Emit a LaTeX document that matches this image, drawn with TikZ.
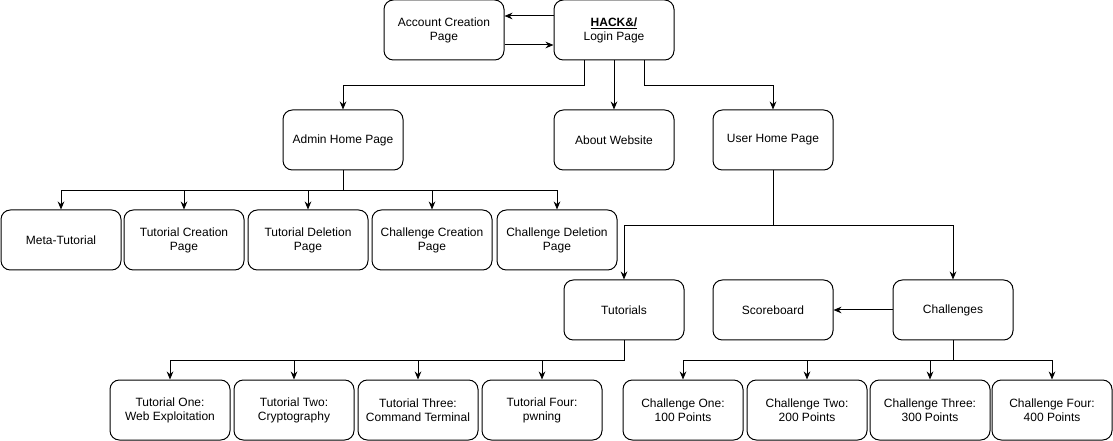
\documentclass[tikz,border=0pt]{standalone}
\usepackage{fontspec}
\setmainfont{Liberation Sans}
\usetikzlibrary{arrows.meta,calc}

\tikzset{
  page/.style={draw, rounded corners=7pt, line width=0.75pt, minimum width=90pt,
    minimum height=45pt, inner sep=1pt, align=center, font=\fontsize{9}{10.5}\selectfont},
  arr/.style={-{Stealth[length=6pt,width=5pt]}, line width=0.75pt},
  lnk/.style={line width=0.75pt}
}

\begin{document}
\begin{tikzpicture}[x=0.75pt,y=-0.75pt]
  \useasboundingbox (0,0) rectangle (1113,441);
  % top row
  \node[page] (acc) at (444,30) {Account Creation\\Page};
  \node[page] (login) at (614,30) {\underline{\textbf{HACK\&/}}\\Login Page};
  % home pages
  \node[page] (admin) at (343,140) {Admin Home Page};
  \node[page] (about) at (614,140) {About Website};
  \node[page] (user) at (773,140) {User Home Page};
  % admin pages
  \node[page] (meta) at (61,240) {Meta-Tutorial};
  \node[page] (tcre) at (184,240) {Tutorial Creation\\Page};
  \node[page] (tdel) at (308,240) {Tutorial Deletion\\Page};
  \node[page] (ccre) at (432,240) {Challenge Creation\\Page};
  \node[page] (cdel) at (557,240) {Challenge Deletion\\Page};
  % user pages
  \node[page] (tuts) at (624,310) {Tutorials};
  \node[page] (score) at (773,310) {Scoreboard};
  \node[page] (chal) at (953,310) {Challenges};
  % tutorials and challenges
  \node[page] (tone) at (170,410) {Tutorial One:\\Web Exploitation};
  \node[page] (ttwo) at (294,410) {Tutorial Two:\\Cryptography};
  \node[page] (tthree) at (418,410) {Tutorial Three:\\Command Terminal};
  \node[page] (tfour) at (542,410) {Tutorial Four:\\pwning};
  \node[page] (cone) at (683,410) {Challenge One:\\100 Points};
  \node[page] (ctwo) at (807,410) {Challenge Two:\\200 Points};
  \node[page] (cthree) at (930,410) {Challenge Three:\\300 Points};
  \node[page] (cfour) at (1052,410) {Challenge Four:\\400 Points};

  % links
  \draw[arr] ([yshift=10.5pt]login.west) -- ([yshift=10.5pt]acc.east);
  \draw[arr] ([yshift=-11.25pt]acc.east) -- ([yshift=-11.25pt]login.west);
  \draw[arr] ([xshift=-22.5pt]login.south) -- ++(0,25) -| (admin.north);
  \draw[arr] (login.south) -- (about.north);
  \draw[arr] ([xshift=22.5pt]login.south) -- ++(0,25) -| (user.north);
  \foreach \n in {meta,tcre,tdel,ccre,cdel}
    \draw[arr] (admin.south) -- ++(0,20) -| (\n.north);
  \foreach \n in {tuts,chal}
    \draw[arr] (user.south) -- ++(0,55) -| (\n.north);
  \draw[arr] (chal.west) -- (score.east);
  \foreach \n in {tone,ttwo,tthree,tfour}
    \draw[arr] (tuts.south) -- ++(0,20) -| (\n.north);
  \foreach \n in {cone,ctwo,cthree,cfour}
    \draw[arr] (chal.south) -- ++(0,20) -| (\n.north);
\end{tikzpicture}
\end{document}
